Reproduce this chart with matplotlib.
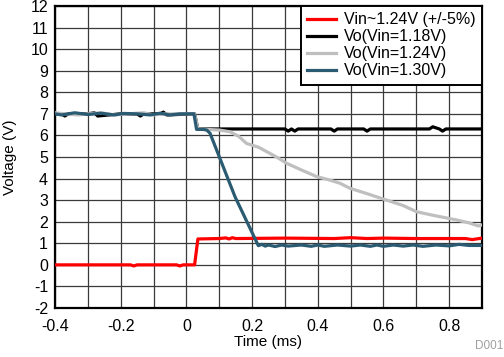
import matplotlib
matplotlib.use("Agg")
import matplotlib.pyplot as plt

plt.rcParams['font.family'] = ['Liberation Sans', 'DejaVu Sans']
plt.rcParams['axes.unicode_minus'] = False

# ---- data ----
t_red = [-0.4, -0.17, -0.16, -0.15, -0.03, -0.02, -0.01, 0.025, 0.035, 0.10, 0.12,
         0.13, 0.14, 0.15, 0.30, 0.45, 0.50, 0.55, 0.60, 0.70, 0.85, 0.87, 0.9]
v_red = [0.0, 0.0, -0.05, 0.0, 0.0, -0.05, 0.0, 0.0, 1.20, 1.22, 1.25,
         1.20, 1.26, 1.22, 1.24, 1.22, 1.26, 1.22, 1.24, 1.22, 1.22, 1.17, 1.24]

t_black = [-0.4, -0.38, -0.37, -0.36, -0.30, -0.28, -0.27, -0.20, -0.15, -0.14,
           -0.13, -0.08, -0.07, -0.06, 0.025, 0.035, 0.30, 0.31, 0.32, 0.33,
           0.34, 0.35, 0.44, 0.45, 0.46, 0.47, 0.54, 0.55, 0.56, 0.57, 0.74,
           0.75, 0.77, 0.78, 0.79, 0.9]
v_black = [7.0, 7.0, 6.9, 7.0, 7.0, 7.05, 6.9, 7.0, 7.0, 6.9,
           7.0, 7.0, 7.08, 6.95, 7.0, 6.3, 6.3, 6.2, 6.3, 6.2,
           6.3, 6.3, 6.3, 6.2, 6.3, 6.3, 6.3, 6.2, 6.3, 6.3, 6.3,
           6.4, 6.3, 6.2, 6.3, 6.3]

t_gray = [-0.4, -0.37, -0.33, -0.30, -0.26, -0.22, -0.18, -0.13, -0.10, -0.07,
          -0.04, 0.0, 0.025, 0.035, 0.062, 0.10, 0.133, 0.160, 0.183, 0.22,
          0.254, 0.28, 0.305, 0.35, 0.397, 0.437, 0.468, 0.498, 0.55, 0.61,
          0.66, 0.701, 0.76, 0.823, 0.86, 0.889, 0.9]
v_gray = [7.05, 7.0, 6.95, 7.0, 7.05, 6.95, 7.0, 7.05, 6.95, 7.0,
          7.0, 7.0, 7.0, 6.3, 6.28, 6.25, 6.17, 5.95, 5.63, 5.45,
          5.17, 4.95, 4.71, 4.40, 4.09, 3.93, 3.78, 3.55, 3.30, 3.00,
          2.75, 2.46, 2.27, 2.08, 1.95, 1.80, 1.85]

t_blue = [-0.4, -0.38, -0.34, -0.30, -0.26, -0.22, -0.19, -0.15, -0.11, -0.08,
          -0.05, -0.02, 0.0, 0.023, 0.031, 0.050, 0.062, 0.072, 0.148, 0.219,
          0.23, 0.24, 0.25, 0.27, 0.29, 0.31, 0.35, 0.38, 0.40, 0.42, 0.46,
          0.50, 0.53, 0.56, 0.58, 0.60, 0.63, 0.66, 0.69, 0.72, 0.76, 0.80,
          0.83, 0.86, 0.9]
v_blue = [7.0, 6.95, 7.05, 6.97, 7.03, 6.95, 7.02, 7.0, 6.95, 7.03,
          6.95, 7.0, 7.0, 7.0, 6.28, 6.28, 6.25, 6.10, 3.16, 0.89,
          0.95, 0.87, 0.92, 0.85, 0.92, 0.87, 0.92, 0.86, 0.92, 0.86, 0.92,
          0.87, 0.92, 0.86, 0.92, 0.86, 0.92, 0.87, 0.92, 0.86, 0.92, 0.88,
          0.95, 0.90, 0.90]

labels = ["Vin~1.24V (+/-5%)", "Vo(Vin=1.18V)", "Vo(Vin=1.24V)", "Vo(Vin=1.30V)"]
colors = ["#ff0000", "#000000", "#bfbfbf", "#2a5b72"]

x_ticks = [-0.4, -0.2, 0, 0.2, 0.4, 0.6, 0.8]
x_tick_labels = ["-0.4", "-0.2", "0", "0.2", "0.4", "0.6", "0.8"]
y_ticks = list(range(-2, 13))

# ---- figure ----
fig = plt.figure(figsize=(5.04, 3.57), dpi=100)
ax = fig.add_axes([55/504, 1 - 308/357, (482 - 55)/504, (308 - 6)/357])

lw = 2.3
ax.plot(t_red, v_red, color=colors[0], lw=lw, label=labels[0], zorder=3)
ax.plot(t_black, v_black, color=colors[1], lw=lw, label=labels[1], zorder=3)
ax.plot(t_gray, v_gray, color=colors[2], lw=lw, label=labels[2], zorder=3)
ax.plot(t_blue, v_blue, color=colors[3], lw=lw, label=labels[3], zorder=4)

ax.set_xlim(-0.4, 0.9)
ax.set_ylim(-2, 12)
ax.set_xticks([x / 10 for x in range(-4, 10)], minor=True)
ax.set_xticks(x_ticks)
ax.set_xticklabels(x_tick_labels)
ax.set_yticks(y_ticks)
ax.grid(True, which='both', color='#3a3a3a', lw=0.9)
ax.set_axisbelow(True)
ax.tick_params(which='both', length=0, labelsize=11.5)
ax.tick_params(axis='x', pad=8)
ax.tick_params(axis='y', pad=5)

for s in ax.spines.values():
    s.set_linewidth(1.6)
    s.set_color('black')

ax.set_xlabel("Time (ms)", fontsize=11)
ax.set_ylabel("Voltage (V)", fontsize=11)
ax.xaxis.set_label_coords(0.5, -0.09)
ax.yaxis.set_label_coords(-0.088, 0.5)

leg = ax.legend(loc='upper right', fontsize=11.5, frameon=True, fancybox=False,
                borderaxespad=0, handlelength=1.8, labelspacing=0.12,
                borderpad=0.4, handletextpad=0.5)
leg.get_frame().set_edgecolor('black')
leg.get_frame().set_linewidth(1.4)
leg.get_frame().set_alpha(1)

fig.text(503/504, 1 - 352/357, "D001", ha='right', va='bottom', fontsize=8.5, color='#a0a0a0')

fig.savefig("out.png", dpi=100)
